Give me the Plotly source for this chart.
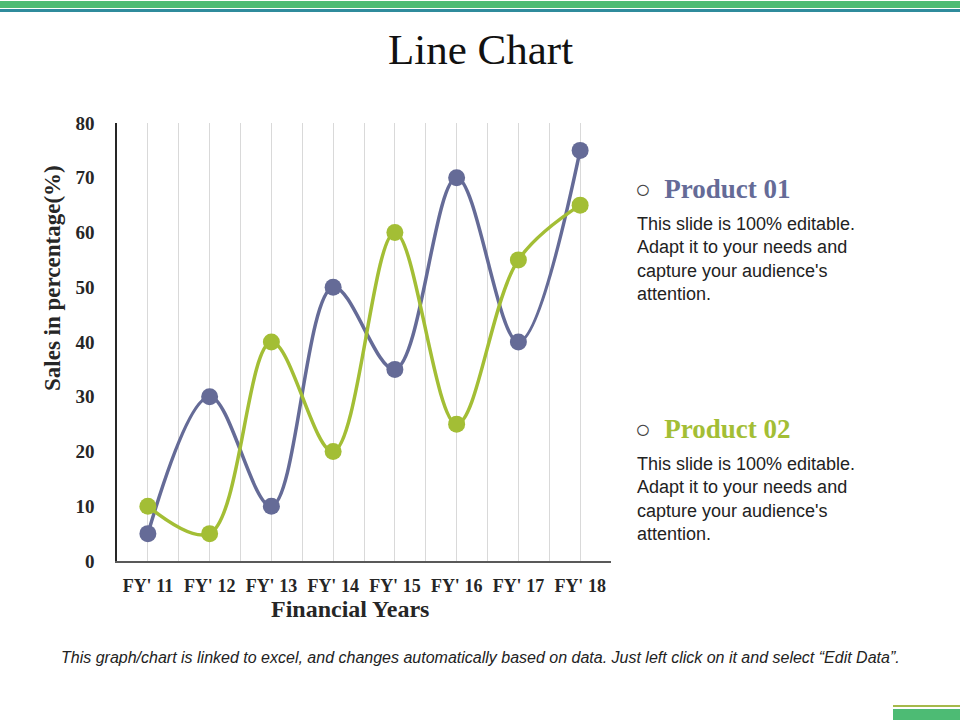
import plotly.graph_objects as go

categories = ["FY' 11", "FY' 12", "FY' 13", "FY' 14", "FY' 15", "FY' 16", "FY' 17", "FY' 18"]
product_01 = [5, 30, 10, 50, 35, 70, 40, 75]
product_02 = [10, 5, 40, 20, 60, 25, 55, 65]
y_ticks = [0, 10, 20, 30, 40, 50, 60, 70, 80]

C1 = "#656B97"
C2 = "#A3BE35"
SERIF = "Liberation Serif, Times New Roman, serif"
SANS = "Liberation Sans, Arial, sans-serif"

xpos = list(range(len(categories)))

fig = go.Figure()
fig.add_trace(go.Scatter(x=xpos, y=product_01, mode="lines+markers", name="Product 01",
                         line=dict(color=C1, width=3.5, shape="spline", smoothing=1.0),
                         marker=dict(size=17, color=C1)))
fig.add_trace(go.Scatter(x=xpos, y=product_02, mode="lines+markers", name="Product 02",
                         line=dict(color=C2, width=3.5, shape="spline", smoothing=1.0),
                         marker=dict(size=17, color=C2)))

fig.update_layout(
    width=960, height=720,
    margin=dict(l=117, r=349, t=123, b=159),
    paper_bgcolor="white", plot_bgcolor="white",
    showlegend=False,
    xaxis=dict(range=[-0.5, 7.5], tickmode="array", tickvals=xpos, ticktext=categories,
               showgrid=True, gridcolor="#D9D9D9", gridwidth=1,
               minor=dict(tickmode="array", tickvals=[i - 0.5 for i in range(9)],
                          showgrid=True, gridcolor="#D9D9D9", gridwidth=1),
               showline=True, linecolor="#595959", linewidth=1.5,
               ticks="", ticklabelstandoff=8,
               tickfont=dict(family=SERIF, size=18, color="#262626", weight="bold"), zeroline=False,
               fixedrange=True),
    yaxis=dict(range=[0, 80], tickmode="array", tickvals=y_ticks,
               showgrid=False, showline=True, linecolor="#262626", linewidth=1.5,
               ticks="", ticklabelstandoff=17,
               tickfont=dict(family=SERIF, size=19, color="#262626", weight="bold"), zeroline=False,
               fixedrange=True),
)


def px(xp):
    return (xp - 117) / 494


def py(yp):
    return (561 - yp) / 438


def note(text, x, y, xanchor="center", yanchor="middle", **kw):
    fig.add_annotation(text=text, xref="paper", yref="paper", x=px(x), y=py(y),
                       xanchor=xanchor, yanchor=yanchor, showarrow=False, **kw)


# axis titles
note("<b>Financial Years</b>", 350, 609, font=dict(family=SERIF, size=24, color="#262626"))
note("<b>Sales in percentage(%)</b>", 52, 278, textangle=-90,
     font=dict(family=SERIF, size=23, color="#262626"))

# title
note("Line Chart", 480, 49, font=dict(family=SERIF, size=43, color="#111111"))

body = "This slide is 100% editable.<br>Adapt it to your needs and<br>capture your audience's<br>attention."

for head_y, body_y, label, col in [(189, 259, "Product 01", C1), (429, 499, "Product 02", C2)]:
    note("<span style='font-weight:normal; font-size:26px; color:#444'>\u25cb</span>  <b>" + label + "</b>",
         633, head_y, xanchor="left", font=dict(family=SERIF, size=27, color=col))
    note(body, 635, body_y, xanchor="left", align="left",
         font=dict(family=SANS, size=18, color="#222222"))

note("<i>This graph/chart is linked to excel, and changes automatically based on data. Just left click on it and select \u201cEdit Data\u201d.</i>",
     480, 657, font=dict(family="Liberation Sans Narrow, Arial Narrow, Liberation Sans, sans-serif",
                         size=16, color="#222222"))

# decorative bands
def band(x0, x1, y0, y1, color):
    fig.add_shape(type="rect", xref="paper", yref="paper", x0=px(x0), x1=px(x1), y0=py(y0), y1=py(y1),
                  fillcolor=color, line_width=0, layer="above")


band(0, 960, 1, 8, "#4DBB74")
band(0, 960, 9, 12, "#2F8B9C")
band(893, 960, 705, 707, "#A5B94A")
band(893, 960, 709, 720, "#4DBB74")

fig.write_html("out.html", config={"displayModeBar": False},
               post_script="document.body.style.margin='0px';")
